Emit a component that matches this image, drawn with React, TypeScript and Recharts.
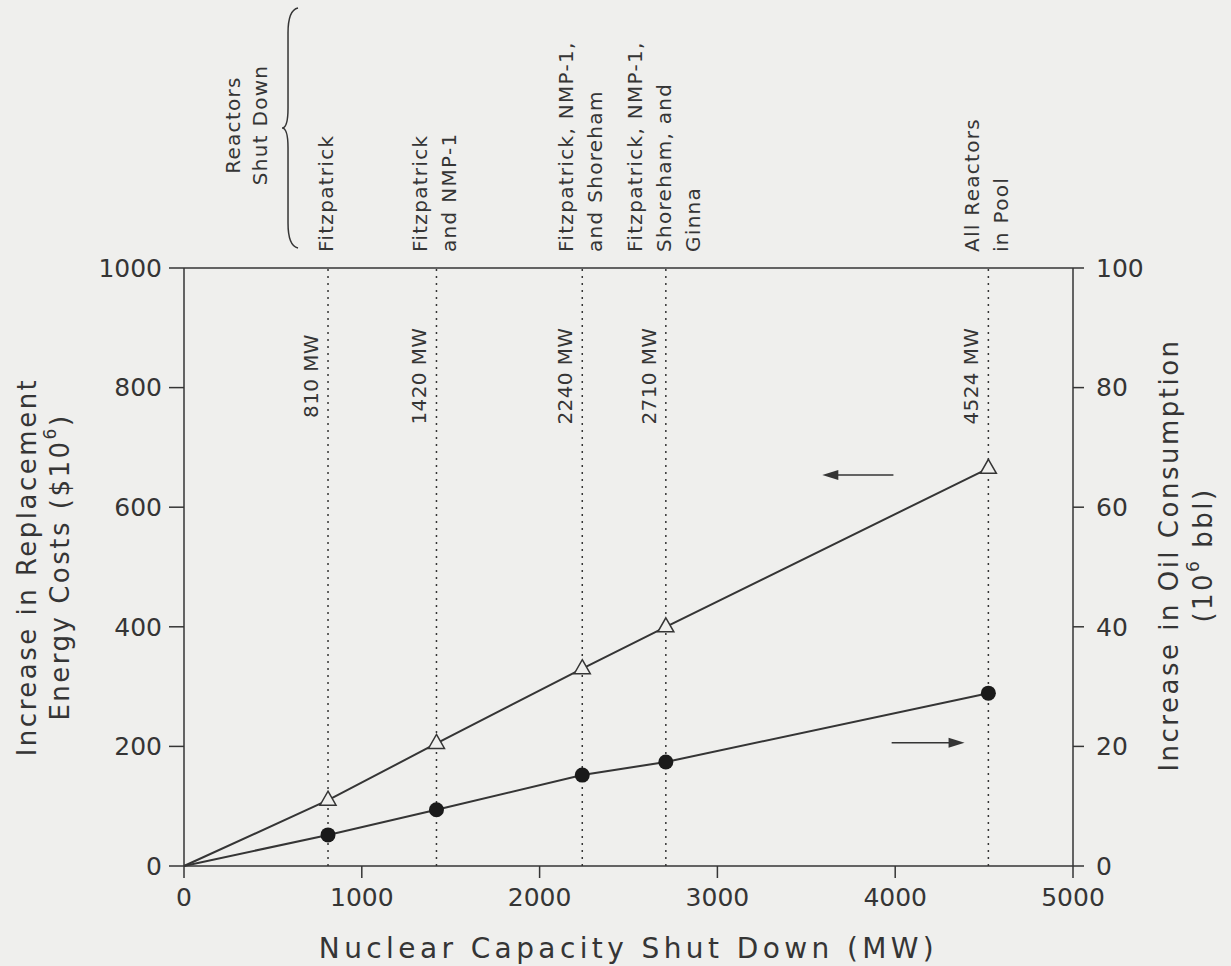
import { LineChart, Line, XAxis, YAxis, ReferenceLine } from "recharts"

// capacity shut down (MW) and what it costs
const capacityMW = [0, 810, 1420, 2240, 2710, 4524]
const energyCost = [0, 110, 205, 330, 400, 665] // $10^6
const oilUse = [0, 5.2, 9.4, 15.2, 17.4, 28.9] // 10^6 bbl

const xTicks = [0, 1000, 2000, 3000, 4000, 5000]
const costTicks = [0, 200, 400, 600, 800, 1000]
const oilTicks = [0, 20, 40, 60, 80, 100]

// cases marked with dotted lines
const shutdownMW = [810, 1420, 2240, 2710, 4524]
const shutdownSets = [
  ["Fitzpatrick"],
  ["Fitzpatrick", "and NMP-1"],
  ["Fitzpatrick, NMP-1,", "and Shoreham"],
  ["Fitzpatrick, NMP-1,", "Shoreham, and", "Ginna"],
  ["All Reactors", "in Pool"],
]

// arrows telling which axis each curve reads on
const costArrowX = [3990, 3590]
const costArrowY = 654
const oilArrowX = [3980, 4390]
const oilArrowY = 20.6

const data = capacityMW.map((mw, i) => ({ mw, cost: energyCost[i], oil: oilUse[i] }))

const INK = "#353535"
const BG = "#efefed"
const FONT = "'DejaVu Sans', sans-serif"

const rotated = (x: number, y: number) => `rotate(-90, ${x}, ${y})`

function TriangleDot(props: any) {
  const { cx, cy, index } = props
  if (index === 0 || cx == null) return <g key={`tri-${index}`} />
  return (
    <polygon
      key={`tri-${index}`}
      points={`${cx},${cy - 9} ${cx + 8},${cy + 5} ${cx - 8},${cy + 5}`}
      fill={BG}
      stroke={INK}
      strokeWidth={1.5}
    />
  )
}

function CircleDot(props: any) {
  const { cx, cy, index } = props
  if (index === 0 || cx == null) return <g key={`dot-${index}`} />
  return <circle key={`dot-${index}`} cx={cx} cy={cy} r={7.5} fill="#1a1a1a" />
}

const arrowShape = (pointsLeft: boolean) => (p: any) => {
  const { x1, x2, y1 } = p
  const tip = pointsLeft ? Math.min(x1, x2) : Math.max(x1, x2)
  const tail = pointsLeft ? Math.max(x1, x2) : Math.min(x1, x2)
  const d = pointsLeft ? 1 : -1
  return (
    <g>
      <line x1={tail} y1={y1} x2={tip + d * 10} y2={y1} stroke={INK} strokeWidth={1.5} />
      <polygon points={`${tip},${y1} ${tip + d * 16},${y1 - 5} ${tip + d * 16},${y1 + 5}`} fill={INK} />
    </g>
  )
}

const shutdownLabel = (i: number) => (p: any) => {
  const vb = p.viewBox || {}
  const x = vb.x
  const top = Math.min(vb.y, vb.y + (vb.height || 0))
  const lines = shutdownSets[i]
  const gap = 29
  const base = top - 16
  const mwX = x - 17
  const mwY = top + 108
  return (
    <g fontFamily={FONT} fill={INK}>
      {lines.map((ln, k) => {
        const lx = x - 2 + (k - (lines.length - 1) / 2) * gap
        return (
          <text key={k} x={lx} y={base} transform={rotated(lx, base)} fontSize={20} letterSpacing={1.3}
            textAnchor="start" dominantBaseline="central">
            {ln}
          </text>
        )
      })}
      <text x={mwX} y={mwY} transform={rotated(mwX, mwY)} fontSize={20} letterSpacing={0.4}
        textAnchor="middle" dominantBaseline="central">
        {`${shutdownMW[i]} MW`}
      </text>
      {i === 0 && (
        <g>
          <path
            d={`M ${x - 30} ${top - 260} Q ${x - 40} ${top - 258} ${x - 40} ${top - 235} L ${x - 40} ${top - 160}
              Q ${x - 40} ${top - 140} ${x - 46} ${top - 140} Q ${x - 40} ${top - 140} ${x - 40} ${top - 120}
              L ${x - 40} ${top - 45} Q ${x - 40} ${top - 22} ${x - 30} ${top - 20}`}
            fill="none"
            stroke={INK}
            strokeWidth={1.5}
          />
          {["Reactors", "Shut Down"].map((ln, k) => {
            const lx = x - 95 + k * 27
            const ly = top - 143
            return (
              <text key={k} x={lx} y={ly} transform={rotated(lx, ly)} fontSize={20} letterSpacing={1.3}
                textAnchor="middle" dominantBaseline="central">
                {ln}
              </text>
            )
          })}
        </g>
      )}
    </g>
  )
}

const axisTitle = { fontFamily: FONT, fill: INK, fontSize: 26, letterSpacing: 2.5 }

function CostTitle(p: any) {
  const vb = p.viewBox
  const cy = vb.y + vb.height / 2
  return (
    <g style={axisTitle}>
      <text x={27} y={cy} transform={rotated(27, cy)} textAnchor="middle" dominantBaseline="central">
        Increase in Replacement
      </text>
      <text x={60} y={cy} transform={rotated(60, cy)} textAnchor="middle" dominantBaseline="central">
        Energy Costs ($10<tspan baselineShift="super" fontSize={17}>6</tspan>)
      </text>
    </g>
  )
}

function OilTitle(p: any) {
  const vb = p.viewBox
  const cy = vb.y + vb.height / 2 - 12
  const x1 = vb.x + 96
  const x2 = vb.x + 130
  return (
    <g style={axisTitle}>
      <text x={x1} y={cy} transform={rotated(x1, cy)} textAnchor="middle" dominantBaseline="central">
        Increase in Oil Consumption
      </text>
      <text x={x2} y={cy} transform={rotated(x2, cy)} textAnchor="middle" dominantBaseline="central">
        (10<tspan baselineShift="super" fontSize={17}>6</tspan> bbl)
      </text>
    </g>
  )
}

function CapacityTitle(p: any) {
  const vb = p.viewBox
  return (
    <text x={vb.x + vb.width / 2} y={948} textAnchor="middle" dominantBaseline="central"
      fontFamily={FONT} fill={INK} fontSize={28} letterSpacing={4.4}>
      Nuclear Capacity Shut Down (MW)
    </text>
  )
}

export default function App() {
  const tick = { fill: INK, fontSize: 25, fontFamily: FONT }
  const axisLine = { stroke: INK, strokeWidth: 1.5 }
  return (
    <div style={{ position: "absolute", left: 0, top: 0, width: 1231, height: 966, background: BG }}>
      <LineChart width={1231} height={966} data={data} margin={{ top: 268, right: 0, bottom: 0, left: 0 }}>
        <XAxis
          type="number"
          dataKey="mw"
          domain={[0, 5000]}
          ticks={xTicks}
          interval={0}
          height={100}
          tick={tick}
          tickSize={12}
          tickMargin={10}
          axisLine={axisLine}
          tickLine={axisLine}
          label={CapacityTitle}
        />
        <YAxis
          yAxisId="left"
          domain={[0, 1000]}
          ticks={costTicks}
          interval={0}
          width={184}
          tick={tick}
          tickSize={15}
          tickMargin={7}
          axisLine={axisLine}
          tickLine={axisLine}
          label={CostTitle}
        />
        <YAxis
          yAxisId="right"
          orientation="right"
          domain={[0, 100]}
          ticks={oilTicks}
          interval={0}
          width={158}
          tick={tick}
          tickSize={11}
          tickMargin={12}
          axisLine={axisLine}
          tickLine={axisLine}
          label={OilTitle}
        />
        <ReferenceLine yAxisId="left" y={1000} stroke={INK} strokeWidth={1.5} />
        {shutdownMW.map((mw, i) => (
          <ReferenceLine
            key={mw}
            yAxisId="left"
            x={mw}
            stroke={INK}
            strokeWidth={1.5}
            strokeDasharray="2 5"
            label={shutdownLabel(i)}
          />
        ))}
        <ReferenceLine
          yAxisId="left"
          segment={[{ x: costArrowX[0], y: costArrowY }, { x: costArrowX[1], y: costArrowY }]}
          shape={arrowShape(true)}
        />
        <ReferenceLine
          yAxisId="right"
          segment={[{ x: oilArrowX[0], y: oilArrowY }, { x: oilArrowX[1], y: oilArrowY }]}
          shape={arrowShape(false)}
        />
        <Line
          yAxisId="left"
          type="linear"
          dataKey="cost"
          stroke={INK}
          strokeWidth={2}
          dot={TriangleDot}
          activeDot={false}
          isAnimationActive={false}
        />
        <Line
          yAxisId="right"
          type="linear"
          dataKey="oil"
          stroke={INK}
          strokeWidth={2}
          dot={CircleDot}
          activeDot={false}
          isAnimationActive={false}
        />
      </LineChart>
    </div>
  )
}
